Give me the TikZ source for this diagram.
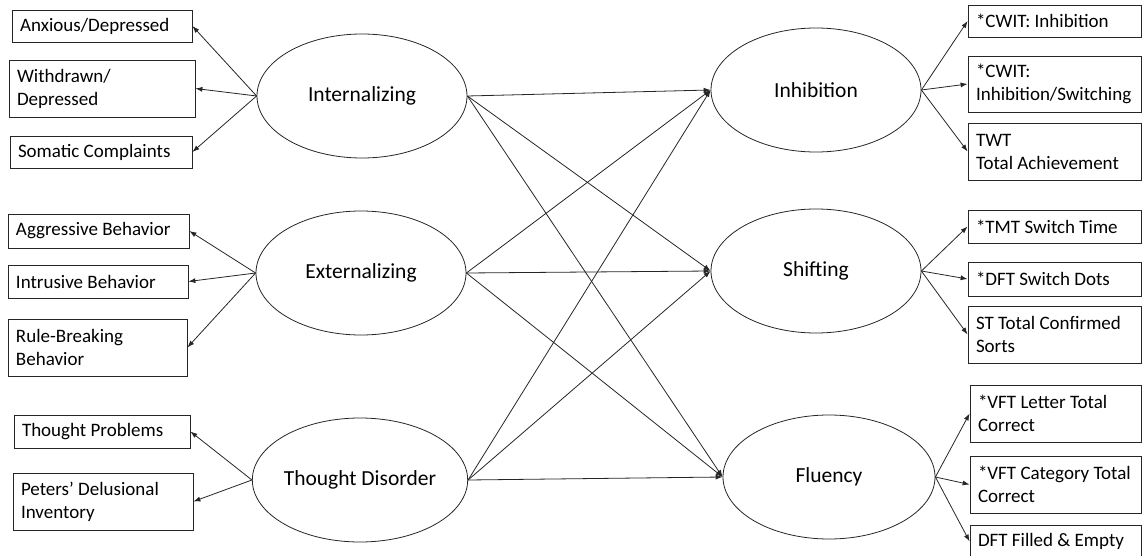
\documentclass[tikz,border=0pt]{standalone}
\usepackage{fontspec}
\setmainfont{Carlito}
\usetikzlibrary{shapes.geometric, arrows.meta}

\begin{document}
\begin{tikzpicture}[x=1pt, y=-1pt, line width=0.8pt,
  factor/.style={draw=black!85, ellipse, minimum width=210pt, minimum height=124pt, inner sep=0pt, font=\fontsize{21.5}{25}\selectfont},
  indic/.style={draw=black!85, rectangle, align=left, inner xsep=8pt, inner ysep=0pt, font=\fontsize{19}{23}\selectfont,
    execute at begin node={\spaceskip=0pt\xspaceskip=0pt\hyphenpenalty=10000\relax}},
  load/.style={draw=black!85, -{Latex[length=7pt, width=5pt]}}]
\clip (0,0) rectangle (1143,556);

% Factors
\node[factor] (int) at (362,96)  {Internalizing};
\node[factor] (ext) at (361,273) {Externalizing};
\node[factor] (tdo) at (360,480) {Thought Disorder};
\node[factor] (inh) at (816,90)  {Inhibition};
\node[factor] (shi) at (816,271) {Shifting};
\node[factor, minimum width=212pt] (flu) at (829,477) {Fluency};

% Indicators (left)
\node[indic, text width=164pt, minimum height=32pt] (anx) at (102,26)    {Anxious/Depressed};
\node[indic, text width=170pt, minimum height=57pt] (wit) at (102,88.5)  {Withdrawn/\\Depressed};
\node[indic, text width=166pt, minimum height=32pt] (som) at (101,152)   {Somatic Complaints};
\node[indic, text width=165pt, minimum height=34pt] (agg) at (98.5,231)  {Aggressive Behavior};
\node[indic, text width=164pt, minimum height=33pt] (itr) at (98,281.5)  {Intrusive Behavior};
\node[indic, text width=163pt, minimum height=57pt] (rbb) at (97.5,347.5) {Rule-Breaking\\Behavior};
\node[indic, text width=160pt, minimum height=33pt] (tpr) at (102,431.5) {Thought Problems};
\node[indic, text width=164pt, minimum height=57pt] (pdi) at (103,501.5) {Peters’ Delusional\\Inventory};

% Indicators (right)
\node[indic, text width=157pt, minimum height=32pt] (cwi) at (1054.5,21)    {*CWIT: Inhibition};
\node[indic, text width=157pt, minimum height=56pt] (cws) at (1054.5,84)    {*CWIT:\\Inhibition/Switching};
\node[indic, text width=157pt, minimum height=57pt] (twt) at (1054.5,151.5) {TWT\\Total~Achievement};
\node[indic, text width=157pt, minimum height=33pt] (tmt) at (1054.5,226.5) {*TMT Switch Time};
\node[indic, text width=157pt, minimum height=34pt] (dsd) at (1054.5,279)   {*DFT Switch Dots};
\node[indic, text width=157pt, minimum height=57pt] (stc) at (1054.5,334.5) {ST Total Confirmed\\Sorts};
\node[indic, text width=155pt, minimum height=57pt] (vfl) at (1055.5,413.5) {*VFT Letter Total\\Correct};
\node[indic, text width=155pt, minimum height=57pt] (vfc) at (1055.5,484.5) {*VFT~Category~Total\\Correct};
\node[indic, text width=155pt, minimum height=33pt] (dfe) at (1055.5,541.5) {DFT~Filled~\&~Empty};

% Loadings
\foreach \f/\i in {int/anx, int/wit, int/som, ext/agg, ext/itr, ext/rbb, tdo/tpr, tdo/pdi}
  \draw[load] (\f.west) -- (\i.east);
\foreach \f/\i in {inh/cwi, inh/cws, inh/twt, shi/tmt, shi/dsd, shi/stc, flu/vfl, flu/vfc, flu/dfe}
  \draw[load] (\f.east) -- (\i.west);

% Paths
\foreach \s in {int, ext, tdo}
  \foreach \t in {inh, shi, flu}
    \draw[load] (\s.east) -- (\t.west);
\end{tikzpicture}
\end{document}
